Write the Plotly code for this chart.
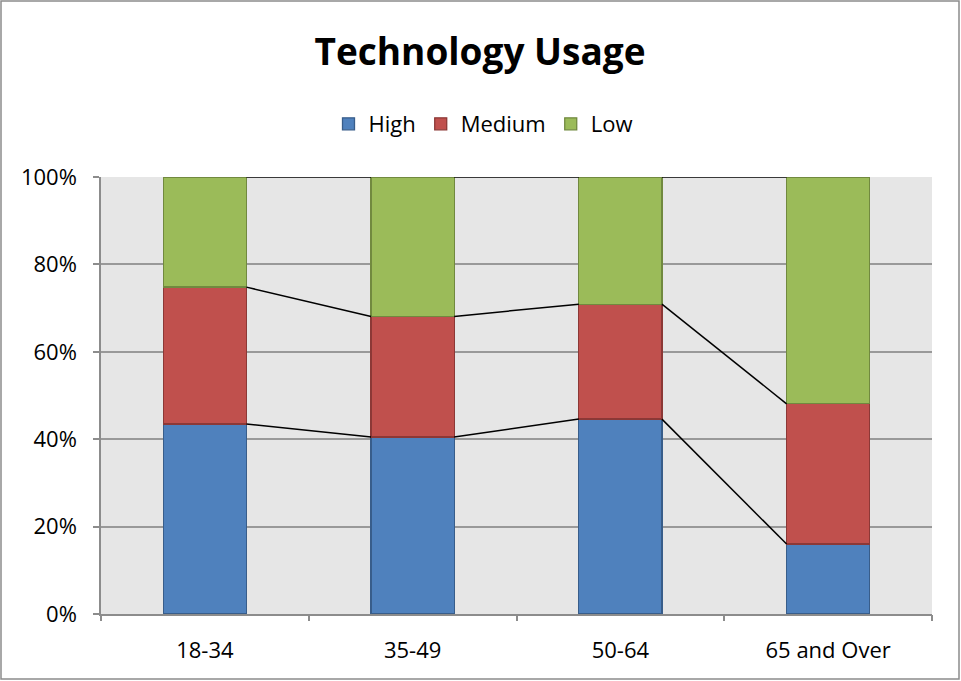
import plotly.graph_objects as go

# Age groups and usage shares (percent of each group)
categories = ["18-34", "35-49", "50-64", "65 and Over"]
high = [43.5, 40.5, 44.6, 16.0]
medium = [31.3, 27.6, 26.3, 32.1]
low = [25.2, 31.9, 29.1, 51.9]
y_ticks = [0, 20, 40, 60, 80, 100]

W, H = 961, 681
L, R, T, B = 101, 29, 177, 67
pw, ph = W - L - R, H - T - B

x = list(range(len(categories)))
bar_w = 0.4

fig = go.Figure()
series = [("High", high, "#4f81bd", "#385d8a"),
          ("Medium", medium, "#c0504d", "#8c3836"),
          ("Low", low, "#9bbb59", "#71893f")]
for name, vals, col, edge in series:
    fig.add_trace(go.Bar(x=x, y=vals, name=name, width=bar_w,
                         marker=dict(color=col, line=dict(color=edge, width=1.3))))

# series lines joining the top of each stacked segment
cum = [0] * len(categories)
for _, vals, _, _ in series:
    cum = [c + v for c, v in zip(cum, vals)]
    lx, ly = [], []
    for i in range(len(categories) - 1):
        lx += [i + bar_w / 2, i + 1 - bar_w / 2, None]
        ly += [cum[i], cum[i + 1], None]
    fig.add_trace(go.Scatter(x=lx, y=ly, mode="lines", showlegend=False,
                             line=dict(color="black", width=1.5), hoverinfo="skip"))

# invisible trace on the second x axis for the boundary tick marks
fig.add_trace(go.Scatter(x=[-0.5, 3.5], y=[0, 0], xaxis="x2", mode="markers",
                         marker=dict(opacity=0), showlegend=False, hoverinfo="skip"))

font = "Open Sans, Liberation Sans, sans-serif"
grey = "#8c8c8c"
fig.update_layout(
    width=W, height=H,
    barmode="stack",
    margin=dict(l=L, r=R, t=T, b=B),
    paper_bgcolor="white",
    plot_bgcolor="#e6e6e6",
    font=dict(family=font, size=22, color="black"),
    title=dict(text="<b>Technology Usage</b>", x=(480 - L) / pw, xref="paper",
               xanchor="center", y=1 - 52 / H, yanchor="middle",
               font=dict(size=37)),
    legend=dict(orientation="h", traceorder="normal",
                x=(483 - L) / pw, xanchor="center",
                y=(614 - 124) / ph, yanchor="middle",
                font=dict(size=22), itemwidth=30),
    xaxis=dict(range=[-0.5, 3.5], tickvals=x, ticktext=categories, ticks="",
               ticklabelstandoff=16,
               showgrid=False, zeroline=False, showline=True, linecolor=grey,
               linewidth=1.5),
    xaxis2=dict(range=[-0.5, 3.5], overlaying="x", side="bottom",
                tickvals=[-0.5, 0.5, 1.5, 2.5, 3.5], ticks="outside", ticklen=6,
                tickcolor=grey, tickwidth=1.5, showticklabels=False,
                showgrid=False, zeroline=False),
    yaxis=dict(range=[0, 100], tickvals=y_ticks,
               ticktext=[f"{v}%" for v in y_ticks], ticks="outside", ticklen=6,
               tickcolor=grey, tickwidth=1.5, ticklabelstandoff=12,
               showgrid=True, gridcolor="#999999", gridwidth=1.8,
               zeroline=False, showline=True, linecolor=grey, linewidth=1.5),
    shapes=[dict(type="rect", xref="paper", yref="paper",
                 x0=(1 - L) / pw, x1=(W - 2 - L) / pw,
                 y0=-(B - 2) / ph, y1=1 + (T - 1) / ph,
                 line=dict(color=grey, width=1.5), layer="below")],
)

fig.write_html("out.html", config={"displayModeBar": False},
               post_script="document.body.style.margin='0';")
